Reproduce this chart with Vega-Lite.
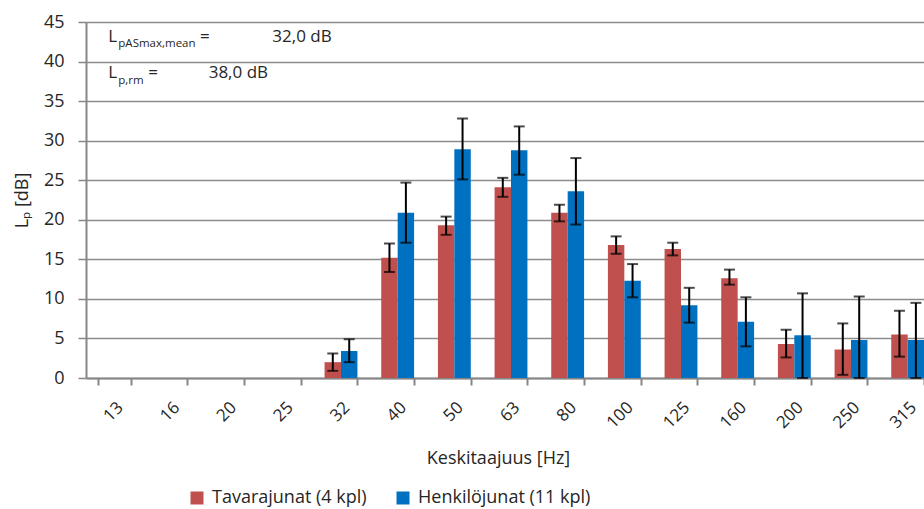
{
  "$schema": "https://vega.github.io/schema/vega-lite/v6.json",
  "width": 850,
  "height": 356,
  "autosize": {"type": "none"},
  "padding": {"left": 86, "top": 22, "right": 0, "bottom": 131},
  "background": "white",
  "config": {
    "font": "Open Sans",
    "view": {"stroke": null},
    "axis": {"labelFont": "Open Sans", "titleFont": "Open Sans", "labelColor": "#262626", "titleColor": "#262626", "titleFontWeight": "normal"},
    "axisY": {"labelFontSize": 18, "titleFontSize": 18, "gridColor": "#8c8c8c", "gridWidth": 1.5, "domainColor": "#868686", "domainWidth": 2, "tickColor": "#868686", "tickWidth": 1.5, "tickSize": 8, "labelPadding": 14, "titlePadding": 12},
    "legend": {"labelFont": "Open Sans"}
  },
  "data": {
    "values": [
      {"freq": "32", "series": "Tavarajunat (4 kpl)", "value": 2.0, "lo": 0.9, "hi": 3.1},
      {"freq": "32", "series": "Henkilöjunat (11 kpl)", "value": 3.4, "lo": 2.0, "hi": 4.9},
      {"freq": "40", "series": "Tavarajunat (4 kpl)", "value": 15.2, "lo": 13.4, "hi": 17.0},
      {"freq": "40", "series": "Henkilöjunat (11 kpl)", "value": 20.9, "lo": 17.1, "hi": 24.7},
      {"freq": "50", "series": "Tavarajunat (4 kpl)", "value": 19.3, "lo": 18.1, "hi": 20.4},
      {"freq": "50", "series": "Henkilöjunat (11 kpl)", "value": 28.9, "lo": 25.1, "hi": 32.8},
      {"freq": "63", "series": "Tavarajunat (4 kpl)", "value": 24.1, "lo": 22.9, "hi": 25.3},
      {"freq": "63", "series": "Henkilöjunat (11 kpl)", "value": 28.8, "lo": 25.7, "hi": 31.8},
      {"freq": "80", "series": "Tavarajunat (4 kpl)", "value": 20.9, "lo": 19.8, "hi": 21.9},
      {"freq": "80", "series": "Henkilöjunat (11 kpl)", "value": 23.6, "lo": 19.4, "hi": 27.8},
      {"freq": "100", "series": "Tavarajunat (4 kpl)", "value": 16.8, "lo": 15.7, "hi": 17.9},
      {"freq": "100", "series": "Henkilöjunat (11 kpl)", "value": 12.3, "lo": 10.2, "hi": 14.4},
      {"freq": "125", "series": "Tavarajunat (4 kpl)", "value": 16.3, "lo": 15.5, "hi": 17.1},
      {"freq": "125", "series": "Henkilöjunat (11 kpl)", "value": 9.2, "lo": 7.0, "hi": 11.4},
      {"freq": "160", "series": "Tavarajunat (4 kpl)", "value": 12.6, "lo": 11.8, "hi": 13.7},
      {"freq": "160", "series": "Henkilöjunat (11 kpl)", "value": 7.1, "lo": 4.0, "hi": 10.2},
      {"freq": "200", "series": "Tavarajunat (4 kpl)", "value": 4.3, "lo": 2.6, "hi": 6.1},
      {"freq": "200", "series": "Henkilöjunat (11 kpl)", "value": 5.4, "lo": 0.0, "hi": 10.7},
      {"freq": "250", "series": "Tavarajunat (4 kpl)", "value": 3.6, "lo": 0.4, "hi": 6.9},
      {"freq": "250", "series": "Henkilöjunat (11 kpl)", "value": 4.8, "lo": 0.0, "hi": 10.3},
      {"freq": "315", "series": "Tavarajunat (4 kpl)", "value": 5.5, "lo": 2.7, "hi": 8.5},
      {"freq": "315", "series": "Henkilöjunat (11 kpl)", "value": 4.8, "lo": 0.0, "hi": 9.5}
    ]
  },
  "encoding": {
    "x": {
      "field": "freq", "type": "nominal",
      "scale": {"domain": ["13","16","20","25","32","40","50","63","80","100","125","160","200","250","315"], "paddingInner": 0.42, "paddingOuter": 0.21},
      "axis": {"title": "Keskitaajuus [Hz]", "labelAngle": -45, "labelFontSize": 17, "titleFontSize": 18, "tickBand": "extent", "tickSize": 7, "tickColor": "#868686", "tickWidth": 2, "domainColor": "#868686", "domainWidth": 2, "labelPadding": 14, "titlePadding": 19, "titleX": 412, "titleAlign": "center", "grid": false}
    },
    "xOffset": {"field": "series", "type": "nominal", "sort": ["Tavarajunat (4 kpl)", "Henkilöjunat (11 kpl)"]}
  },
  "layer": [
    {
      "mark": {"type": "bar"},
      "encoding": {
        "y": {"field": "value", "type": "quantitative", "scale": {"domain": [0, 45]},
          "axis": {"title": "Lₚ [dB]", "values": [0,5,10,15,20,25,30,35,40,45]}},
        "color": {"field": "series", "type": "nominal", "sort": ["Tavarajunat (4 kpl)", "Henkilöjunat (11 kpl)"],
          "scale": {"range": ["#C0504D", "#0070C0"]},
          "legend": {"title": null, "orient": "none", "direction": "horizontal", "legendX": 102, "legendY": 467, "symbolType": "square", "symbolSize": 169, "symbolStrokeWidth": 0, "labelFontSize": 18, "labelColor": "#262626", "labelLimit": 0, "columnPadding": 27, "labelOffset": 6}}
      }
    },
    {
      "mark": {"type": "rule", "color": "black", "strokeWidth": 2},
      "encoding": {"y": {"field": "lo", "type": "quantitative", "axis": {"title": "Lₚ [dB]", "values": [0,5,10,15,20,25,30,35,40,45]}}, "y2": {"field": "hi"}}
    },
    {
      "mark": {"type": "tick", "color": "black", "thickness": 2, "size": 11, "orient": "horizontal"},
      "encoding": {"y": {"field": "lo", "type": "quantitative", "axis": {"title": "Lₚ [dB]", "values": [0,5,10,15,20,25,30,35,40,45]}}}
    },
    {
      "mark": {"type": "tick", "color": "black", "thickness": 2, "size": 11, "orient": "horizontal"},
      "encoding": {"y": {"field": "hi", "type": "quantitative", "axis": {"title": "Lₚ [dB]", "values": [0,5,10,15,20,25,30,35,40,45]}}}
    },
    {
      "data": {"values": [{"t": "L"}]},
      "mark": {"type": "text", "align": "left", "baseline": "alphabetic", "fontSize": 17, "color": "#262626", "dx": -6},
      "encoding": {"x": {"datum": "13"}, "xOffset": null, "y": {"datum": 42.5, "axis": {"title": "Lₚ [dB]", "values": [0,5,10,15,20,25,30,35,40,45]}}, "text": {"field": "t"}}
    },
    {
      "data": {"values": [{"t": "pASmax,mean"}]},
      "mark": {"type": "text", "align": "left", "baseline": "alphabetic", "fontSize": 11.5, "color": "#262626", "dx": 4},
      "encoding": {"x": {"datum": "13"}, "xOffset": null, "y": {"datum": 41.8, "axis": {"title": "Lₚ [dB]", "values": [0,5,10,15,20,25,30,35,40,45]}}, "text": {"field": "t"}}
    },
    {
      "data": {"values": [{"t": "="}]},
      "mark": {"type": "text", "align": "left", "baseline": "alphabetic", "fontSize": 17, "color": "#262626", "dx": 29},
      "encoding": {"x": {"datum": "16"}, "xOffset": null, "y": {"datum": 42.5, "axis": {"title": "Lₚ [dB]", "values": [0,5,10,15,20,25,30,35,40,45]}}, "text": {"field": "t"}}
    },
    {
      "data": {"values": [{"t": "32,0 dB"}]},
      "mark": {"type": "text", "align": "left", "baseline": "alphabetic", "fontSize": 17, "color": "#262626", "dx": -12},
      "encoding": {"x": {"datum": "25"}, "xOffset": null, "y": {"datum": 42.5, "axis": {"title": "Lₚ [dB]", "values": [0,5,10,15,20,25,30,35,40,45]}}, "text": {"field": "t"}}
    },
    {
      "data": {"values": [{"t": "L"}]},
      "mark": {"type": "text", "align": "left", "baseline": "alphabetic", "fontSize": 17, "color": "#262626", "dx": -6},
      "encoding": {"x": {"datum": "13"}, "xOffset": null, "y": {"datum": 37.9, "axis": {"title": "Lₚ [dB]", "values": [0,5,10,15,20,25,30,35,40,45]}}, "text": {"field": "t"}}
    },
    {
      "data": {"values": [{"t": "p,rm"}]},
      "mark": {"type": "text", "align": "left", "baseline": "alphabetic", "fontSize": 11.5, "color": "#262626", "dx": 4},
      "encoding": {"x": {"datum": "13"}, "xOffset": null, "y": {"datum": 37.2, "axis": {"title": "Lₚ [dB]", "values": [0,5,10,15,20,25,30,35,40,45]}}, "text": {"field": "t"}}
    },
    {
      "data": {"values": [{"t": "="}]},
      "mark": {"type": "text", "align": "left", "baseline": "alphabetic", "fontSize": 17, "color": "#262626", "dx": 34},
      "encoding": {"x": {"datum": "13"}, "xOffset": null, "y": {"datum": 37.9, "axis": {"title": "Lₚ [dB]", "values": [0,5,10,15,20,25,30,35,40,45]}}, "text": {"field": "t"}}
    },
    {
      "data": {"values": [{"t": "38,0 dB"}]},
      "mark": {"type": "text", "align": "left", "baseline": "alphabetic", "fontSize": 17, "color": "#262626", "dx": -19},
      "encoding": {"x": {"datum": "20"}, "xOffset": null, "y": {"datum": 37.9, "axis": {"title": "Lₚ [dB]", "values": [0,5,10,15,20,25,30,35,40,45]}}, "text": {"field": "t"}}
    }
  ]
}
